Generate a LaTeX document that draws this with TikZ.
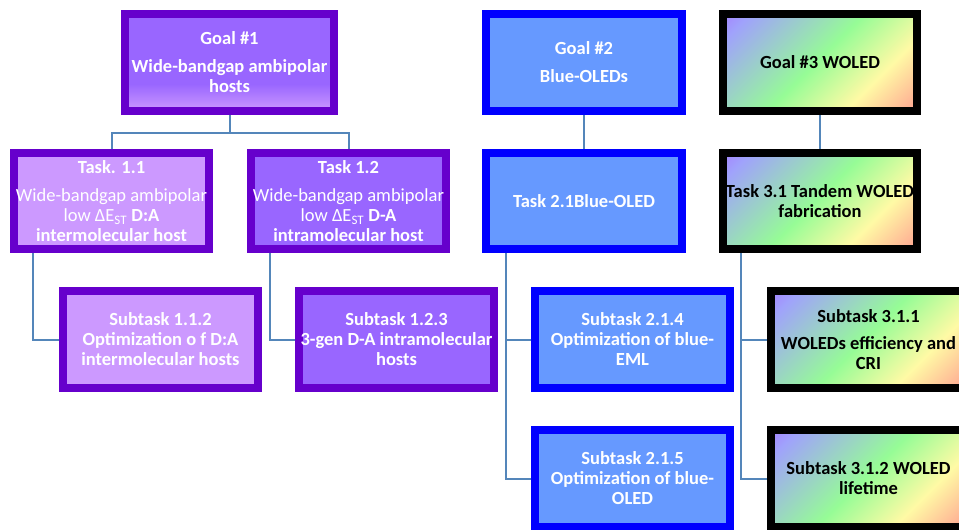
\documentclass[tikz,border=0pt]{standalone}
\usepackage{fontspec}
\setmainfont{Carlito}
\definecolor{hostedge}{RGB}{102, 0, 204}
\definecolor{hostlight}{RGB}{204, 153, 255}
\definecolor{hostdark}{RGB}{153, 102, 255}
\definecolor{blueedge}{RGB}{0, 0, 255}
\definecolor{bluefill}{RGB}{102, 153, 255}
\definecolor{linkblue}{RGB}{84, 134, 186}
\definecolor{wlpurple}{RGB}{166, 120, 255}
\definecolor{wllav}{RGB}{160, 162, 252}
\definecolor{wlgreen}{RGB}{150, 252, 150}
\definecolor{wlyellow}{RGB}{255, 250, 165}
\definecolor{wlred}{RGB}{255, 140, 140}
\usetikzlibrary{positioning, calc}

% fades for the goal box and the white-OLED boxes
\pgfdeclareverticalshading{goalfade}{100bp}{color(0bp)=(hostlight); color(25bp)=(hostlight); color(39bp)=(hostdark); color(100bp)=(hostdark)}
\pgfdeclarehorizontalshading{woledfade}{100bp}{color(0bp)=(wlpurple); color(12bp)=(wlpurple); color(21bp)=(wllav); color(49bp)=(wlgreen); color(68bp)=(wlyellow); color(90bp)=(wlred); color(100bp)=(wlred)}

\begin{document}
\begin{tikzpicture}[x=1pt, y=-1pt,
    box/.style={draw, line width=8pt, minimum width=195pt, minimum height=97pt,
      inner sep=0pt, align=center, text=white,
      font=\fontsize{18.5pt}{20pt}\selectfont\bfseries},
    hostlite/.style={box, draw=hostedge, fill=hostlight},
    hostdeep/.style={box, draw=hostedge, fill=hostdark},
    bluebox/.style={box, draw=blueedge, fill=bluefill},
    woledbox/.style={box, draw=black, text=black, shade, shading=woledfade, shading angle=-45},
    link/.style={draw=linkblue, line width=2pt}]
  \useasboundingbox (0,0) rectangle (959,530);
  \clip (0,0) rectangle (959,530);

  % Goal 1: ambipolar hosts
  \node[hostdeep, shade, shading=goalfade, minimum width=209pt] (goal1) at (229.5,62.5)
    {Goal \#1\\[8pt]Wide-bandgap ambipolar\\hosts};
  \node[hostlite, minimum height=96pt] (task11) at (111.5,201)
    {Task. 1.1\\[8pt]{\mdseries Wide-bandgap ambipolar}\\{\mdseries low ΔE\textsubscript{ST}} D:A\\intermolecular host};
  \node[hostdeep, minimum height=96pt] (task12) at (348.5,201)
    {Task 1.2\\[8pt]{\mdseries Wide-bandgap ambipolar}\\{\mdseries low ΔE\textsubscript{ST}} D-A\\intramolecular host};
  \node[hostlite] (sub112) at (160.5,339.5)
    {Subtask 1.1.2\\Optimization o f D:A\\intermolecular hosts};
  \node[hostdeep] (sub123) at (396.5,339.5)
    {Subtask 1.2.3\\3-gen D-A intramolecular\\hosts};

  % Goal 2: blue OLEDs
  \node[bluebox, minimum width=196pt] (goal2) at (584,62.5) {Goal \#2\\[8pt]Blue-OLEDs};
  \node[bluebox, minimum width=196pt, minimum height=96pt] (task21) at (584,201) {Task 2.1Blue-OLED};
  \node[bluebox] (sub214) at (632.5,339.5) {Subtask 2.1.4\\Optimization of blue-\\EML};
  \node[bluebox] (sub215) at (632.5,478.5) {Subtask 2.1.5\\Optimization of blue-\\OLED};

  % Goal 3: white OLEDs
  \node[woledbox, minimum width=194pt] (goal3) at (820,62.5) {Goal \#3 WOLED};
  \node[woledbox, minimum width=194pt, minimum height=96pt] (task31) at (820,201)
    {Task 3.1 Tandem WOLED\\fabrication};
  \node[woledbox] (sub311) at (868.5,339.5) {Subtask 3.1.1\\[7pt]WOLEDs efficiency and\\CRI};
  \node[woledbox] (sub312) at (868.5,478.5) {Subtask 3.1.2 WOLED\\lifetime};

  % connectors
  \draw[link] (goal1.south) -- ++(0,18) -| (task11.north);
  \draw[link] (goal1.south) -- ++(0,18) -| (task12.north);
  \draw[link] ([xshift=23pt]task11.south west) |- (sub112.west);
  \draw[link] ([xshift=23pt]task12.south west) |- (sub123.west);
  \draw[link] (goal2) -- (task21);
  \draw[link] ([xshift=24pt]task21.south west) |- (sub214.west);
  \draw[link] ([xshift=24pt]task21.south west) |- (sub215.west);
  \draw[link] (goal3) -- (task31);
  \draw[link] ([xshift=22pt]task31.south west) |- (sub311.west);
  \draw[link] ([xshift=22pt]task31.south west) |- (sub312.west);
\end{tikzpicture}
\end{document}
